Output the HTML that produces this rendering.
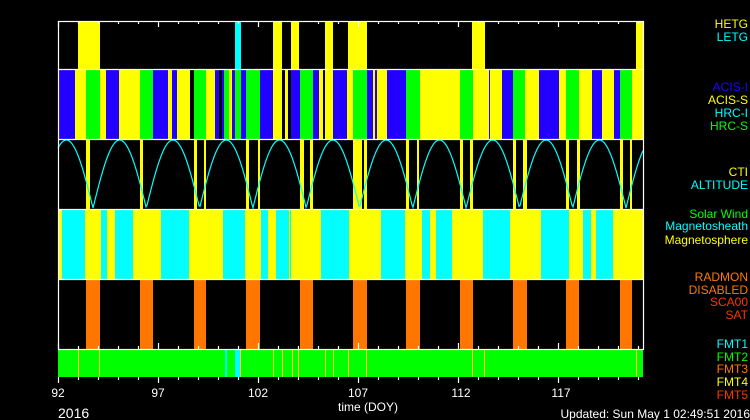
<!DOCTYPE html>
<html><head><style>body{margin:0;background:#000}svg{display:block}text{font-family:"Liberation Sans",sans-serif}</style></head>
<body>
<svg id="s" width="750" height="420" xmlns="http://www.w3.org/2000/svg">
<rect width="750" height="420" fill="#000"/>
<g id="g"></g>
<g font-size="12" text-anchor="end">
<text x="748" y="28" fill="#ffff00">HETG</text>
<text x="748" y="41" fill="#00ffff">LETG</text>
<text x="748" y="91" fill="#2200ff">ACIS-I</text>
<text x="748" y="104" fill="#ffff00">ACIS-S</text>
<text x="748" y="117" fill="#00ffff">HRC-I</text>
<text x="748" y="130" fill="#00ff00">HRC-S</text>
<text x="748" y="176" fill="#ffff00">CTI</text>
<text x="748" y="189" fill="#00ffff">ALTITUDE</text>
<text x="748" y="218" fill="#00ff00">Solar Wind</text>
<text x="748" y="230" fill="#00ffff">Magnetosheath</text>
<text x="748" y="244" fill="#ffff00">Magnetosphere</text>
<text x="748" y="281" fill="#ff7700">RADMON</text>
<text x="748" y="294" fill="#ff7700">DISABLED</text>
<text x="748" y="306" fill="#ff3300">SCA00</text>
<text x="748" y="319" fill="#ff3300">SAT</text>
<text x="748" y="348" fill="#00ffff">FMT1</text>
<text x="748" y="361" fill="#00ff00">FMT2</text>
<text x="748" y="373" fill="#ff7700">FMT3</text>
<text x="748" y="386" fill="#ffff00">FMT4</text>
<text x="748" y="399" fill="#ff3300">FMT5</text>
</g>
<g font-size="12" fill="#fff" text-anchor="middle">
<text x="58" y="397">92</text><text x="158" y="397">97</text><text x="258" y="397">102</text>
<text x="358" y="397">107</text><text x="461" y="397">112</text><text x="561" y="397">117</text>
<text x="368" y="411">time (DOY)</text>
</g>
<text x="58" y="418" font-size="14" fill="#fff">2016</text>
<text x="750" y="418" font-size="12" fill="#fff" text-anchor="end">Updated: Sun May  1 02:49:51 2016</text>
</svg>
<script>
var g=document.getElementById('g'),h='';
function R(x1,x2,y1,y2,c){h+='<rect x="'+x1+'" y="'+y1+'" width="'+(x2-x1)+'" height="'+(y2-y1)+'" fill="'+c+'"/>';}
var Y='#ffff00',C='#00ffff',B='#2200ff',G='#00ff00',O='#ff7700',K='#000';
// panel1
[[78,100,Y],[235,241,C],[273,282,Y],[291,299,Y],[325,333,Y],[348,367,Y],[472,485,Y],[636,643,Y]].forEach(a=>R(a[0],a[1],21,69,a[2]));
// panel2
var p2=[[58,75,B],[75,86,Y],[86,100,G],[100,106,Y],[106,119,B],[119,140,Y],[140,153,G],[153,168,B],[168,172,Y],[172,177,B],[177,190,Y],[190,194,K],[194,206,G],[206,215,Y],[215,219,B],[219,222,K],[222,224,B],[224,229,G],[229,232,Y],[232,235,B],[235,241,G],[241,246,B],[246,260,G],[260,273,B],[273,282,Y],[282,285,K],[285,288,Y],[288,291,K],[291,300,B],[300,313,G],[313,319,B],[319,323,Y],[323,325,K],[325,333,Y],[333,347,B],[347,353,Y],[353,367,G],[367,373,B],[373,377,Y],[375,377,B],[377,387,Y],[387,406,B],[406,420,G],[420,460,Y],[460,473,G],[473,489,Y],[489,490,B],[490,502,Y],[502,513,B],[513,525,G],[525,539,Y],[539,559,B],[559,566,Y],[566,579,G],[579,592,Y],[592,602,B],[602,614,Y],[614,620,B],[620,632,G],[632,643,Y]];
p2.forEach(a=>R(a[0],a[1],69,139,a[2]));
// panel3 yellow
[[86,90],[140,143],[194,197],[204,206],[246,249],[258,260],[300,304],[310,313],[353,362],[364,367],[406,409],[417,419],[460,463],[470,473],[513,516],[523,527],[566,569],[577,580],[620,623],[630,632]].forEach(a=>R(a[0],a[1],139,209,Y));
// altitude curve
var d='';for(var x=58;x<=643;x+=1){var y=208-68*Math.abs(Math.sin(Math.PI*(x-93)/53.3));d+=(x==58?'M':'L')+x+' '+y.toFixed(1);}
h+='<path d="'+d+'" fill="none" stroke="#00ffff" stroke-width="1.2"/>';
// panel4
R(58,643,209,279,Y);
[[62,85],[101,107],[115,133],[161,189],[223,245],[261,268],[276,289],[290,291],[321,349],[381,405],[422,430],[436,452],[483,510],[541,569],[583,591],[596,613]].forEach(a=>R(a[0],a[1],209,279,C));
// panel5
[[86,100],[140,153],[194,206],[246,260],[300,313],[353,367],[406,420],[460,473],[513,527],[566,579],[620,632]].forEach(a=>R(a[0],a[1],279,349,O));
// panel6
R(58,643,349,377,G);
[[225,227],[235,240]].forEach(a=>R(a[0],a[1],349,377,C));
[78,99,240,273,282,292,298,325,333,348,366,472,484,636].forEach(x=>R(x,x+1,349,377,Y));
// frames
h+='<g stroke="#fff" stroke-width="1.2" fill="none"><rect x="58.5" y="21.5" width="585" height="328"/>';
[69,139,209,279].forEach(y=>h+='<line x1="58" x2="644" y1="'+(y+.5)+'" y2="'+(y+.5)+'"/>');
for(var i=0;i<=29;i++){var x=58.5+i*20;var L=(i%5==0)?6:3;h+='<line x1="'+x+'" x2="'+x+'" y1="'+(349-L)+'" y2="349"/><line x1="'+x+'" x2="'+x+'" y1="377" y2="'+(377+L)+'"/><line x1="'+x+'" x2="'+x+'" y1="21" y2="'+(21+L)+'"/>';}
h+='</g>';
g.innerHTML=h;
</script>
</body></html>
